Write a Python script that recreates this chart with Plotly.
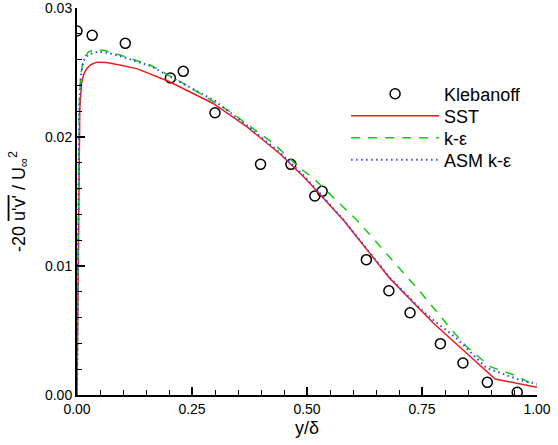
import plotly.graph_objects as go

# Klebanoff flat-plate boundary layer measurements
kleb_x = [0.000, 0.033, 0.105, 0.203, 0.231, 0.300, 0.399, 0.465, 0.517, 0.533,
          0.629, 0.678, 0.724, 0.790, 0.839, 0.892, 0.957]
kleb_y = [0.02822, 0.02788, 0.02726, 0.02457, 0.02509, 0.02188, 0.01788, 0.01788,
          0.01543, 0.01579, 0.01049, 0.00808, 0.00638, 0.00398, 0.00248, 0.00098, 0.00021]

# SST model profile
sst_x = [0.0, 0.001, 0.002, 0.003, 0.004, 0.006, 0.010, 0.015, 0.021, 0.030, 0.043,
         0.064, 0.090, 0.130, 0.200, 0.246, 0.296, 0.369, 0.441, 0.496, 0.579,
         0.680, 0.746, 0.775, 0.909, 1.000]
sst_y = [0.0, 0.004, 0.010, 0.016, 0.0200, 0.0222, 0.0242, 0.0249, 0.0253, 0.0256, 0.0258,
         0.02578, 0.0256, 0.0253, 0.0243, 0.0235, 0.0226, 0.0208, 0.0187, 0.0168, 0.01357,
         0.00904, 0.0066, 0.00556, 0.00124, 0.0006]

# standard k-epsilon profile
ke_x = [0.0, 0.001, 0.002, 0.003, 0.005, 0.008, 0.014, 0.025, 0.040, 0.060, 0.093,
        0.159, 0.231, 0.333, 0.427, 0.485, 0.514, 0.608, 0.717, 0.746, 0.818,
        0.847, 0.898, 0.950, 1.000]
ke_y = [0.0, 0.005, 0.011, 0.018, 0.0225, 0.0248, 0.0261, 0.0266, 0.0268, 0.0267, 0.02636,
        0.02558, 0.02416, 0.02196, 0.0195, 0.01757, 0.0168, 0.01357, 0.0092, 0.0080, 0.0049,
        0.00375, 0.0022, 0.00155, 0.0007]

# ASM k-epsilon profile
asm_x = [0.0, 0.001, 0.002, 0.003, 0.005, 0.008, 0.014, 0.025, 0.046, 0.070, 0.100,
         0.160, 0.231, 0.300, 0.369, 0.441, 0.496, 0.579, 0.680, 0.746, 0.775,
         0.825, 0.890, 0.963, 1.000]
asm_y = [0.0, 0.005, 0.011, 0.018, 0.0224, 0.0246, 0.0259, 0.0264, 0.02662, 0.0265, 0.0262,
         0.0255, 0.0241, 0.0228, 0.0209, 0.0188, 0.0169, 0.0136, 0.0091, 0.0067, 0.0058,
         0.0044, 0.0021, 0.00116, 0.00085]

x_ticks = [0.0, 0.25, 0.5, 0.75, 1.0]
y_ticks = [0.0, 0.01, 0.02, 0.03]

FONT = "Liberation Sans, Arial, sans-serif"

fig = go.Figure()
fig.add_trace(go.Scatter(x=kleb_x, y=kleb_y, mode="markers", name="Klebanoff", legend="legend",
                         marker=dict(symbol="circle-open", size=10, color="black",
                                     line=dict(width=1.5, color="black"))))
fig.add_trace(go.Scatter(x=sst_x, y=sst_y, mode="lines", name="SST", legend="legend2",
                         line=dict(color="#ee1c1c", width=1.5)))
fig.add_trace(go.Scatter(x=ke_x, y=ke_y, mode="lines", name="k-ε", legend="legend3",
                         line=dict(color="#11cc11", width=1.5, dash="9px,8px")))
fig.add_trace(go.Scatter(x=asm_x, y=asm_y, mode="lines", name="ASM k-ε", legend="legend4",
                         line=dict(color="#3344ff", width=2, dash="1.5px,3.5px")))

axis_common = dict(showgrid=False, zeroline=False, showline=True, linecolor="black",
                   linewidth=2, ticks="inside", ticklen=8, tickwidth=2, tickcolor="black",
                   tickfont=dict(family=FONT, size=14, color="black"),
                   tickformat=".2f", mirror=False, ticklabeloverflow="allow",
                   automargin=False)


def legend_box(ytop):
    # one single-entry legend per series so the rows sit at fixed heights
    return dict(x=0.585, y=ytop, xanchor="left", yanchor="top", bgcolor="rgba(0,0,0,0)",
                font=dict(family=FONT, size=18, color="black"), itemwidth=88)


fig.update_layout(
    width=558, height=445,
    margin=dict(l=77, r=21, t=8, b=50),
    paper_bgcolor="white", plot_bgcolor="white",
    font=dict(family=FONT, color="black"),
    xaxis=dict(range=[0, 1.000001], tickvals=x_ticks,
               minor=dict(dtick=0.05, tick0=0, ticks="inside", ticklen=5, tickwidth=1, tickcolor="black"),
               title=dict(text="y/δ", font=dict(size=18), standoff=6),
               **axis_common),
    yaxis=dict(range=[0, 0.0300001], tickvals=y_ticks,
               minor=dict(dtick=0.002, tick0=0, ticks="inside", ticklen=5, tickwidth=1, tickcolor="black"),
               title=dict(text="-20 <span style='text-decoration:overline'>u'v'</span> / U<sub>∞</sub><sup>2</sup>",
                          font=dict(size=18), standoff=15),
               **axis_common),
    legend=legend_box(0.8256),
    legend2=legend_box(0.7687),
    legend3=legend_box(0.7119),
    legend4=legend_box(0.6550),
    showlegend=True,
)

fig.write_html("out.html")
